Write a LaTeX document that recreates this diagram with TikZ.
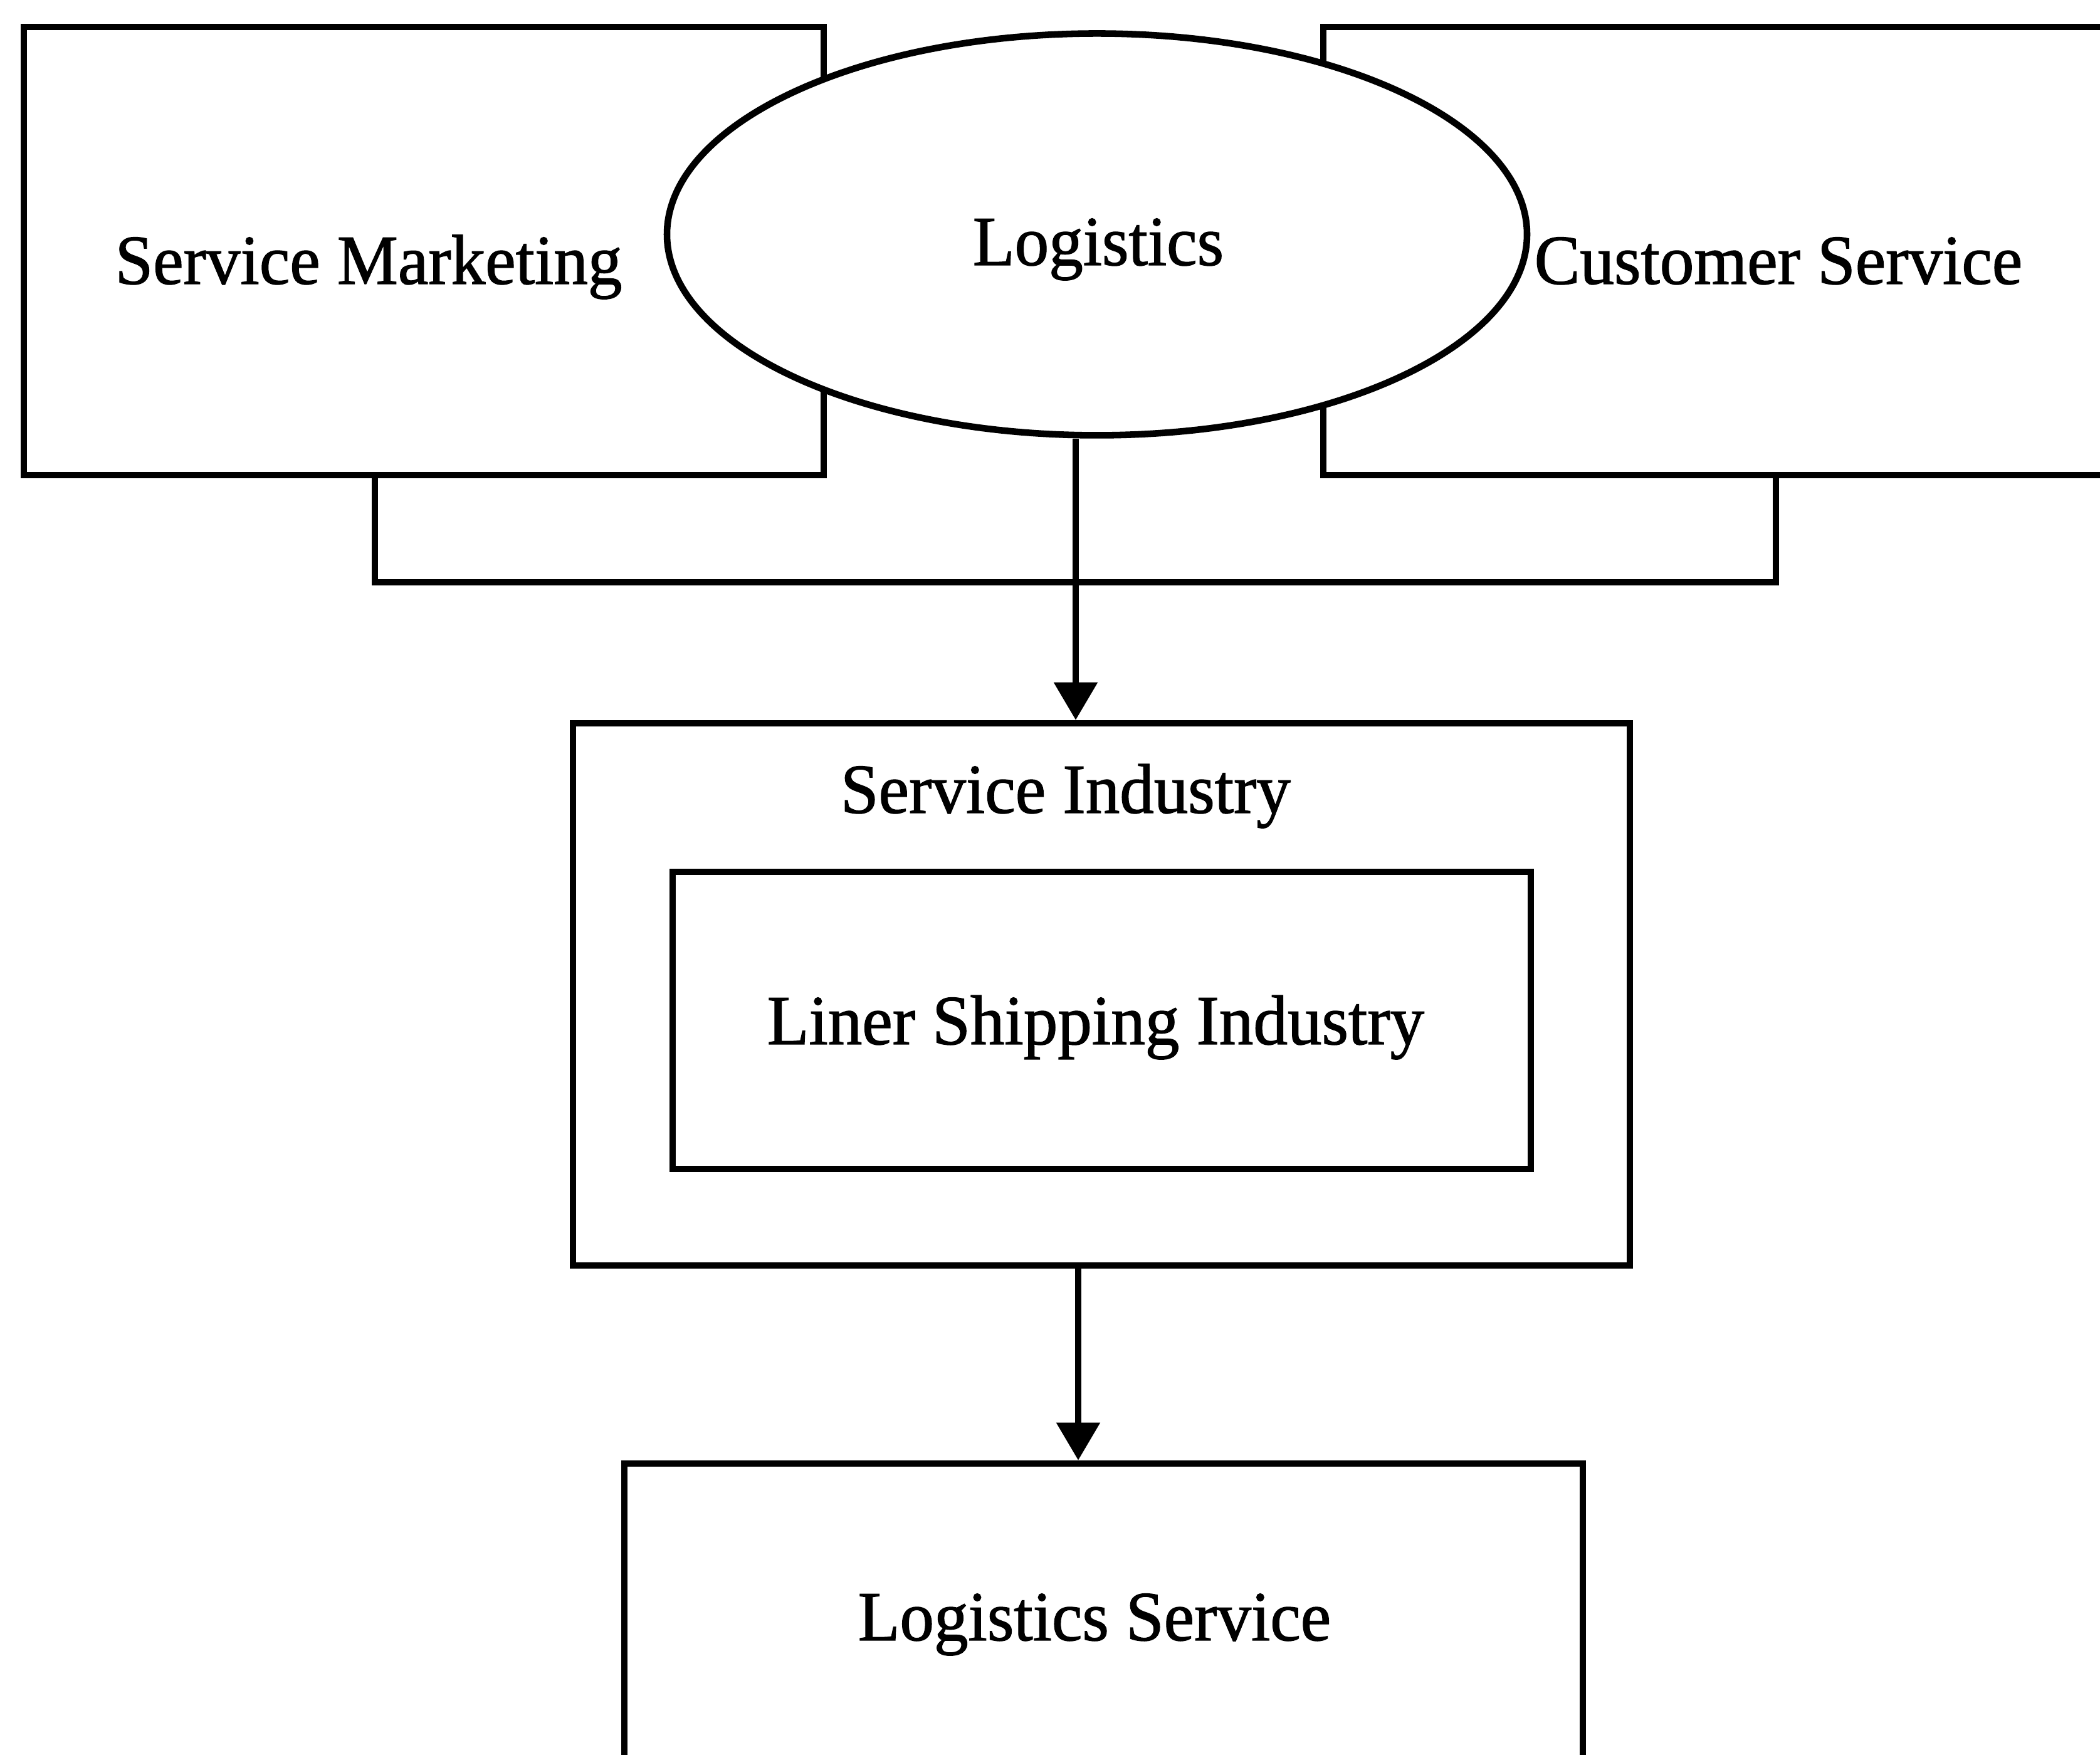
\documentclass[tikz,border=0pt]{standalone}
\usepackage{fontspec}
\setmainfont{Liberation Serif}
\newfontfamily\heavyserif[FakeBold=1.2,FakeStretch=0.97]{Liberation Serif}
\usetikzlibrary{arrows.meta,shapes.geometric}
\tikzset{
  boxnode/.style={draw, line width=3pt, rectangle, inner sep=0pt, fill=white},
  ellnode/.style={draw, line width=3pt, ellipse, inner sep=0pt, fill=white},
  txt/.style={inner sep=0pt, anchor=base, font=\heavyserif\fontsize{32}{38}\selectfont},
  conn/.style={line width=2.6pt},
  arr/.style={conn, -{Triangle[width=0.68cm,length=0.6cm]}}
}
\begin{document}
\begin{tikzpicture}
\useasboundingbox (0,0) rectangle (33.5,28);
% top boxes
\node[boxnode, minimum width=12.76cm, minimum height=7.15cm] (sm) at (6.76,23.995) {};
\node[boxnode, minimum width=13.39cm, minimum height=7.15cm] (cs) at (27.805,23.995) {};
% ellipse
\node[ellnode, minimum width=13.72cm, minimum height=6.41cm] (logi) at (17.50,24.26) {};
% labels on top row
\node[txt] (smtxt) at (5.88,23.47) {Service Marketing};
\node[txt] (logitxt) at (17.52,23.77) {Logistics};
\node[txt] (cstxt) at (28.37,23.47) {Customer Service};
% bracket joining the two boxes
\coordinate (bl) at (5.98,18.71);
\coordinate (br) at (28.33,18.71);
\draw[conn] (sm.south -| bl) -- (bl) -- (br) -- (cs.south -| br);
% service industry
\node[boxnode, minimum width=16.86cm, minimum height=8.65cm] (si) at (17.57,12.135) {};
\node[txt] (sitxt) at (17.00,15.03) {Service Industry};
\node[boxnode, minimum width=13.69cm, minimum height=4.74cm] (ls) at (17.575,11.72) {};
\node[txt] (lstxt) at (17.48,11.34) {Liner Shipping Industry};
% logistics service
\node[boxnode, minimum width=15.29cm, minimum height=5.65cm] (lsv) at (17.605,1.825) {};
\node[txt] (lsvtxt) at (17.46,1.83) {Logistics Service};
% arrows
\coordinate (a1) at (17.16,0);
\coordinate (a2) at (17.20,0);
\draw[arr] (logi.south -| a1) -- (si.north -| a1);
\draw[arr] (si.south -| a2) -- (lsv.north -| a2);
\end{tikzpicture}
\end{document}
